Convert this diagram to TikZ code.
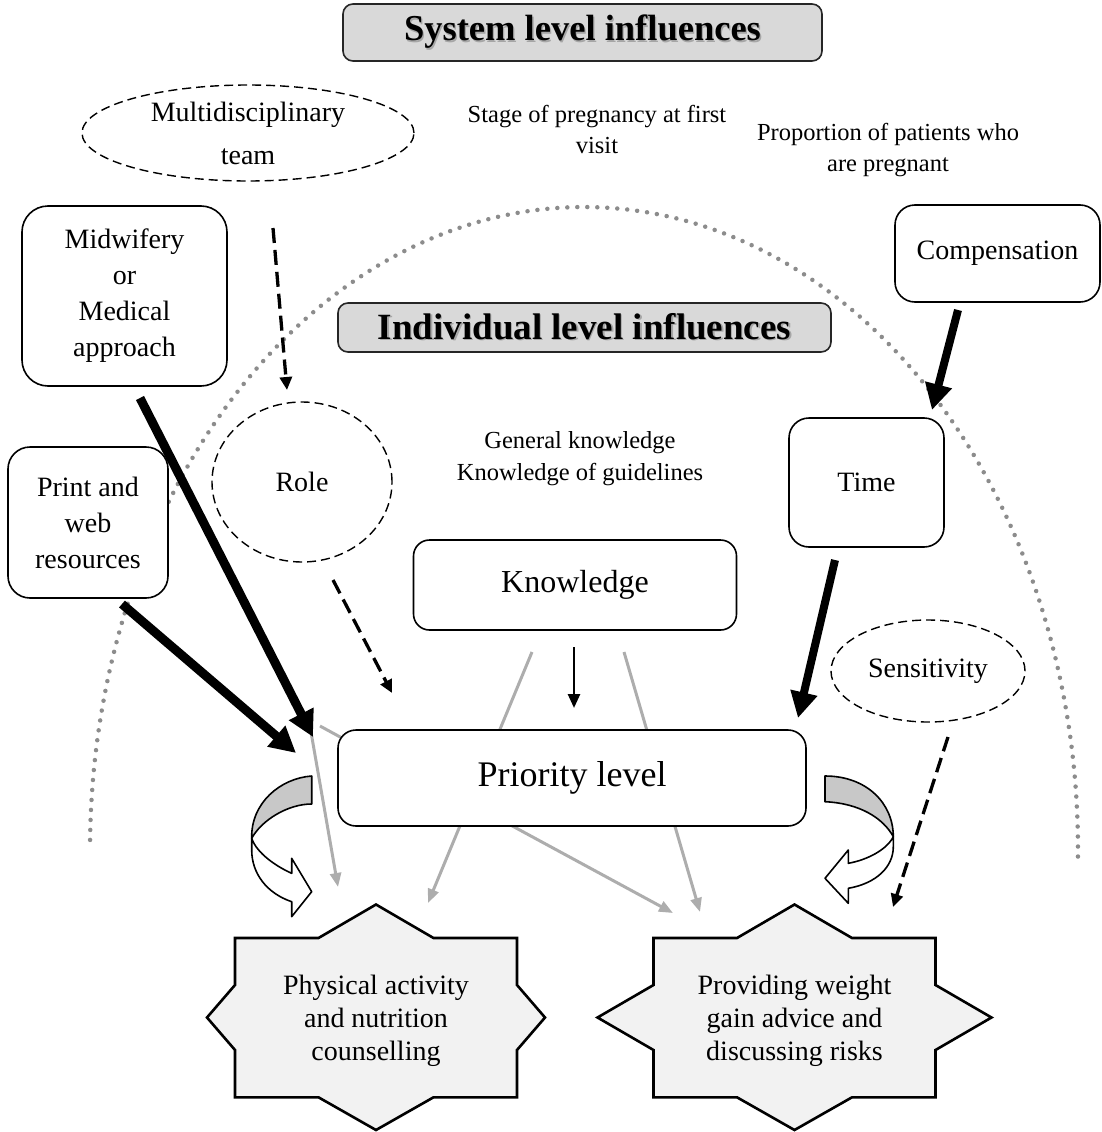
\documentclass[tikz,border=0pt]{standalone}
\usepackage{fontspec}
\setmainfont{Liberation Serif}
\usetikzlibrary{arrows.meta,shapes.geometric}
\definecolor{hdrgray}{HTML}{D9D9D9}
\definecolor{arcgray}{HTML}{8C8C8C}
\definecolor{lngray}{HTML}{ADADAD}
\definecolor{bandgray}{HTML}{C8C8C8}
\definecolor{starfill}{HTML}{F2F2F2}
\newcommand{\shtext}[1]{\makebox[0pt][l]{\hspace{1.3pt}\raisebox{-1.3pt}{\textcolor{black!35}{#1}}}#1}
\begin{document}
\begin{tikzpicture}[x=1pt,y=-1pt,
  rbox/.style={draw=black, line width=1.6pt, fill=white, align=center, inner sep=0pt},
  hdr/.style={draw=black!85, line width=1.6pt, fill=hdrgray, rounded corners=10pt, inner sep=0pt},
  dell/.style={ellipse, draw=black, line width=1.4pt, dash pattern=on 9pt off 5pt, inner sep=0pt, align=center},
  plain/.style={align=center, inner sep=0pt},
  bigarrow/.style={line width=9pt, -{Triangle[length=26pt,width=26pt]}},
  dasharrow/.style={line width=3.3pt, dash pattern=on 15pt off 7pt, -{Triangle[length=13pt,width=12pt]}},
  grayarrow/.style={draw=lngray, line width=3pt, -{Triangle[length=14pt,width=11pt]}},
  grayline/.style={draw=lngray, line width=3pt},
  fA/.style={font=\fontsize{28}{36}\selectfont},
  fS/.style={font=\fontsize{24.5}{31}\selectfont},
  bandline/.style={draw=black, line width=1.6pt, line join=round},
  pics/starshape/.style={code={\draw[line width=2.6pt, fill=starfill, line join=miter] (0,-113) -- (57.5,-79.5) -- (141,-79.5) -- (141,-32.5) -- (#1,0) -- (141,32.5) -- (141,79.8) -- (57.5,79.8) -- (0,112.5) -- (-57.5,79.8) -- (-141,79.8) -- (-141,32.5) -- (-#1,0) -- (-141,-32.5) -- (-141,-79.5) -- (-57.5,-79.5) -- cycle;}}
]
\useasboundingbox (0,0) rectangle (1102,1132);

% dotted arch
\draw[arcgray, line width=4.5pt, line cap=round, dash pattern=on 0pt off 10pt]
  plot[domain=180.9:361.1, samples=240, smooth] ({584+494*cos(\x)},{850+643*sin(\x)});

% headers
\node[hdr, minimum width=479pt, minimum height=57pt, font=\fontsize{36.5}{42}\selectfont\bfseries] (sys) at (582.5,32.5) {\shtext{System level influences}};
\node[hdr, minimum width=493pt, minimum height=49pt, font=\fontsize{37}{44}\selectfont\bfseries] (ind) at (584.5,327.5) {\shtext{Individual level influences}};

% system level items
\node[dell, minimum width=332pt, minimum height=96pt, font=\fontsize{28}{43}\selectfont] (multi) at (248,133) {Multidisciplinary\\team};
\node[plain, fS] (stage) at (597,129) {Stage of pregnancy at first\\visit};
\node[plain, fS] (prop) at (888,150) {Proportion of patients who\\are pregnant};
\node[rbox, rounded corners=26pt, minimum width=205pt, minimum height=180pt, fA] (mid) at (124.5,296) {Midwifery\\or\\Medical\\approach};
\node[rbox, rounded corners=20pt, minimum width=205pt, minimum height=97pt, fA] (comp) at (997.5,253.5) {Compensation};
\node[rbox, rounded corners=22pt, minimum width=160pt, minimum height=151pt, fA] (print) at (88,522.5) {Print and\\web\\resources};

% individual level items
\node[dell, minimum width=180pt, minimum height=160pt, fA] (role) at (302,482) {Role};
\node[plain, font=\fontsize{24.5}{32}\selectfont] (gk) at (580,459) {General knowledge\\Knowledge of guidelines};
\node[rbox, rounded corners=20pt, minimum width=155pt, minimum height=129pt, fA] (time) at (866.5,482.5) {Time};
\node[rbox, rounded corners=16pt, minimum width=323pt, minimum height=90pt, font=\fontsize{32}{38}\selectfont] (know) at (575,585) {Knowledge};
\node[dell, minimum width=194pt, minimum height=102pt, fA] (sens) at (928,671) {Sensitivity};

% outcome stars
\pic at (376,1017.5) {starshape=169};
\node[plain, font=\fontsize{28}{33}\selectfont] (pa) at (376,1021) {Physical activity\\and nutrition\\counselling};
\pic at (794.5,1017.5) {starshape=197};
\node[plain, font=\fontsize{28}{33}\selectfont] (pw) at (794.5,1021) {Providing weight\\gain advice and\\discussing risks};

% grey connectors (behind priority box)
\coordinate (g1a) at (532,652); \coordinate (g1b) at (428,903);
\coordinate (g2a) at (624,652); \coordinate (g2b) at (700,912);
\coordinate (g3a) at (505,822); \coordinate (g3b) at (673,913);
\coordinate (g4a) at (311,732); \coordinate (g4b) at (338,887);
\coordinate (g5a) at (320,726); \coordinate (g5b) at (342,738);
\draw[grayarrow] (g1a) -- (g1b);
\draw[grayarrow] (g2a) -- (g2b);
\draw[grayarrow] (g3a) -- (g3b);
\draw[grayarrow] (g4a) -- (g4b);
\draw[grayline] (g5a) -- (g5b);

% priority box
\node[rbox, rounded corners=18pt, minimum width=468pt, minimum height=96pt, font=\fontsize{36}{42}\selectfont] (prio) at (572,778) {Priority level};

% curved arrows (left)
\filldraw[bandline, fill=bandgray] (311.7,776) .. controls (280,778.3) and (250.7,803.3) .. (251.7,838.3) .. controls (261.7,820) and (288,804) .. (311.7,804) -- cycle;
\filldraw[bandline, fill=white] (251.7,838.3) .. controls (256.7,853.3) and (276.7,866.7) .. (291.7,873.3) -- (291.7,858.3) -- (311.7,891.7) -- (291.7,916.7) -- (291.7,901.7) .. controls (266.7,893.3) and (251.7,873.3) .. (251.7,850) -- cycle;
% curved arrows (right)
\filldraw[bandline, fill=bandgray] (825,776) .. controls (866.7,776) and (893.3,803.3) .. (893.3,836.7) .. controls (883.3,818.3) and (860,803.3) .. (825,801.7) -- cycle;
\filldraw[bandline, fill=white] (893.3,836.7) .. controls (886.7,850) and (866.7,860) .. (848.3,863.3) -- (848.3,850) -- (825,878.3) -- (848.3,903.3) -- (848.3,888.3) .. controls (876.7,883.3) and (893.3,866.7) .. (893.3,846.7) -- cycle;

% black connectors
\coordinate (mA) at (140,398); \coordinate (mB) at (313,737);
\coordinate (pA) at (122,604); \coordinate (pB) at (296,753);
\coordinate (cA) at (958,310); \coordinate (cB) at (932,410);
\coordinate (tA) at (835,560); \coordinate (tB) at (798,718);
\draw[bigarrow] (mA) -- (mB);
\draw[bigarrow] (pA) -- (pB);
\draw[bigarrow, line width=8pt] (cA) -- (cB);
\draw[bigarrow, line width=8pt] (tA) -- (tB);

\coordinate (uA) at (273,228); \coordinate (uB) at (287,390);
\coordinate (rA) at (333,580); \coordinate (rB) at (392,693);
\coordinate (sA) at (948,737); \coordinate (sB) at (893,907);
\draw[dasharrow] (uA) -- (uB);
\draw[dasharrow] (rA) -- (rB);
\draw[dasharrow] (sA) -- (sB);

\coordinate (kA) at (574,647); \coordinate (kB) at (574,708);
\draw[line width=2.6pt, -{Triangle[length=14pt,width=12pt]}] (kA) -- (kB);
\end{tikzpicture}
\end{document}
